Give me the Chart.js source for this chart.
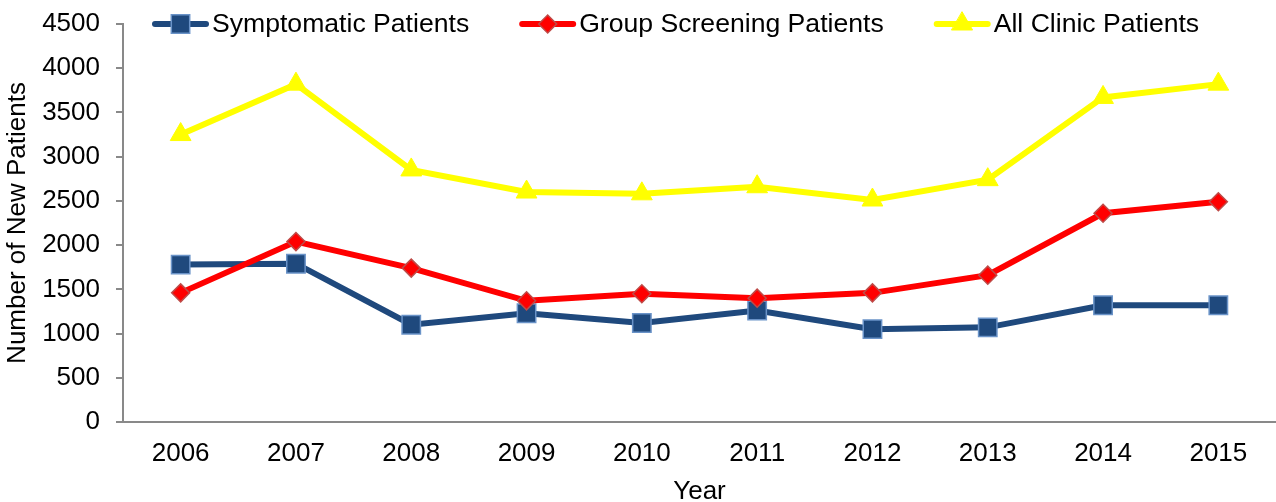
<!DOCTYPE html>
<html>
<head>
<meta charset="utf-8">
<script src="https://cdn.jsdelivr.net/npm/chart.js@4.4.1/dist/chart.umd.min.js"></script>
<style>
  html, body { margin: 0; padding: 0; background: #fff; }
  #wrap { width: 1276px; height: 502px; }
</style>
</head>
<body>
<div id="wrap"><canvas id="patientsChart" width="1276" height="502"></canvas></div>
<script>
// data
const years = ["2006", "2007", "2008", "2009", "2010", "2011", "2012", "2013", "2014", "2015"];
const symptomatic = [1780, 1790, 1100, 1230, 1120, 1260, 1050, 1070, 1320, 1320];
const groupScreening = [1460, 2040, 1740, 1370, 1450, 1400, 1460, 1660, 2360, 2490];
const allClinic = [3250, 3820, 2850, 2600, 2580, 2660, 2510, 2740, 3670, 3820];
const yTicks = [0, 500, 1000, 1500, 2000, 2500, 3000, 3500, 4000, 4500];

const FONT = "'Liberation Sans', Arial, Helvetica, sans-serif";
const AXIS_GREY = "#898989";

// legend drawn by hand so each entry shows line + marker like the original
const lineLegend = {
  id: "lineLegend",
  afterDraw(chart) {
    const ctx = chart.ctx;
    const y = 24;
    let x = 153;
    ctx.save();
    ctx.font = "26.6px " + FONT;
    ctx.textBaseline = "middle";
    chart.data.datasets.forEach(function (ds) {
      ctx.strokeStyle = ds.borderColor;
      ctx.lineWidth = ds.borderWidth;
      ctx.lineCap = "round";
      ctx.beginPath();
      ctx.moveTo(x + 2, y);
      ctx.lineTo(x + 53, y);
      ctx.stroke();

      ctx.fillStyle = ds.pointBackgroundColor;
      ctx.strokeStyle = ds.pointBorderColor;
      ctx.lineWidth = ds.pointBorderWidth;
      Chart.helpers.drawPoint(ctx, {
        pointStyle: ds.pointStyle,
        rotation: 0,
        radius: ds.pointRadius,
        borderWidth: ds.pointBorderWidth
      }, x + 27.5, y);

      ctx.fillStyle = "#000";
      ctx.fillText(ds.label, x + 59, y + 1);
      x += 59 + ctx.measureText(ds.label).width + 51;
    });
    ctx.restore();
  }
};

// keep the plot area where the original has it
function noScalePadding(scale) {
  scale.paddingTop = 0;
  scale.paddingBottom = 0;
  scale.paddingLeft = 0;
  scale.paddingRight = 0;
}

const ctx = document.getElementById("patientsChart").getContext("2d");
new Chart(ctx, {
  type: "line",
  data: {
    labels: years,
    datasets: [
      {
        label: "Symptomatic Patients",
        data: symptomatic,
        borderColor: "#1F497D",
        borderWidth: 6,
        pointStyle: "rect",
        pointRadius: 13,
        pointBackgroundColor: "#1F497D",
        pointBorderColor: "#6A93C8",
        pointBorderWidth: 1.5,
        order: 3
      },
      {
        label: "Group Screening Patients",
        data: groupScreening,
        borderColor: "#FF0000",
        borderWidth: 6,
        pointStyle: "rectRot",
        pointRadius: 9,
        pointBackgroundColor: "#FF0000",
        pointBorderColor: "#BE4B48",
        pointBorderWidth: 1.5,
        order: 2
      },
      {
        label: "All Clinic Patients",
        data: allClinic,
        borderColor: "#FFFF00",
        borderWidth: 6,
        pointStyle: "triangle",
        pointRadius: 12,
        pointBackgroundColor: "#FFFF00",
        pointBorderColor: "#FFFF00",
        pointBorderWidth: 1,
        order: 1
      }
    ]
  },
  options: {
    responsive: false,
    animation: false,
    devicePixelRatio: 1,
    layout: {
      autoPadding: false,
      padding: { top: 24, left: 0, right: 0, bottom: 0 }
    },
    plugins: {
      legend: { display: false },
      tooltip: { enabled: false }
    },
    scales: {
      x: {
        offset: true,
        grid: { display: false, drawTicks: false },
        border: { display: true, color: AXIS_GREY, width: 2 },
        ticks: {
          color: "#000",
          padding: 16,
          maxRotation: 0,
          font: { family: FONT, size: 26 }
        },
        title: {
          display: true,
          text: "Year",
          color: "#000",
          font: { family: FONT, size: 26, lineHeight: 0.8 },
          padding: 0
        },
        afterFit: function (scale) {
          scale.height = 80;
          noScalePadding(scale);
        }
      },
      y: {
        min: yTicks[0],
        max: yTicks[yTicks.length - 1],
        afterBuildTicks: function (scale) {
          scale.ticks = yTicks.map(function (v) { return { value: v }; });
        },
        grid: {
          display: true,
          drawOnChartArea: false,
          drawTicks: true,
          tickLength: 7,
          color: AXIS_GREY,
          lineWidth: 2
        },
        border: { display: true, color: AXIS_GREY, width: 2 },
        ticks: {
          color: "#000",
          padding: 16,
          font: { family: FONT, size: 26 },
          callback: function (value) {
            return String(value);
          }
        },
        title: {
          display: true,
          text: "Number of New Patients",
          color: "#000",
          font: { family: FONT, size: 26, lineHeight: 1.2 },
          padding: { top: 2, bottom: 0 }
        },
        afterFit: function (scale) {
          scale.width = 123;
          noScalePadding(scale);
        }
      }
    }
  },
  plugins: [lineLegend]
});
</script>
</body>
</html>
